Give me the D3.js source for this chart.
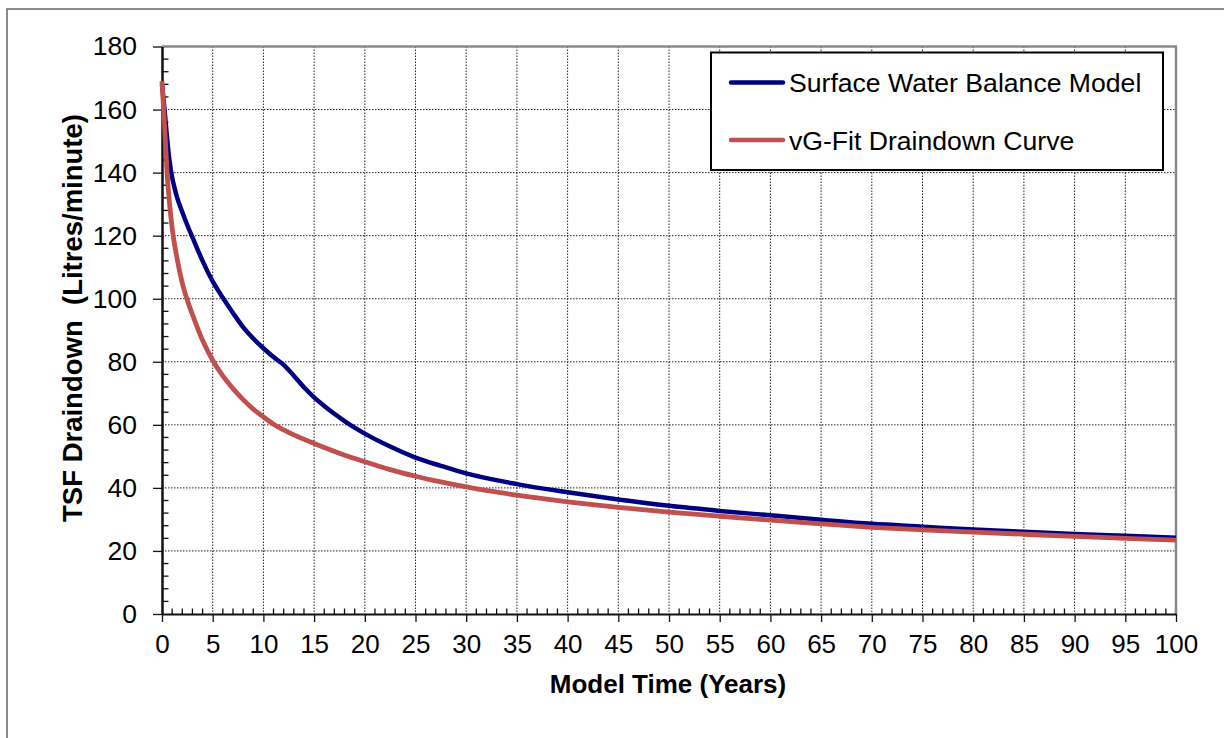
<!DOCTYPE html>
<html><head><meta charset="utf-8">
<script src="https://cdn.jsdelivr.net/npm/d3@7"></script>
<style>
html,body{margin:0;padding:0;background:#fff;}
svg{display:block;font-family:"Liberation Sans",Arial,sans-serif;}
</style></head>
<body>
<svg id="chart" width="1224" height="738"></svg>
<script>
// ---- data ----
const xTicks = [0,5,10,15,20,25,30,35,40,45,50,55,60,65,70,75,80,85,90,95,100];
const yTicks = [0,20,40,60,80,100,120,140,160,180];
const seriesNames = ["Surface Water Balance Model","vG-Fit Draindown Curve"];
const swbTime = [0,0.25,0.5,0.75,1,1.25,1.5,2,2.5,3,4,5,6,7,8,9,10,11,12,13,14,15,16,17,18,19,20,22.5,25,27.5,30,35,40,45,50,55,60,65,70,75,80,85,90,95,100];
const swbFlow = [168,160,151,143.5,138.5,135,132,127.5,123.3,119.5,112,105.5,100.3,95.5,91,87.4,84.3,81.5,79,75.6,71.9,68.7,66,63.5,61.2,59.1,57.2,53.1,49.6,47,44.6,41.2,38.6,36.3,34.3,32.7,31.3,29.9,28.6,27.7,26.8,26.1,25.4,24.8,24.2];
const vgTime = [0,0.25,0.5,0.75,1,1.5,2,2.5,3,4,5,6,7,8,9,10,11,12,13,14,15,17.5,20,22.5,25,27.5,30,35,40,45,50,55,60,65,70,75,80,85,90,95,100];
const vgFlow = [169,155,140,130,122.5,112.5,105,99.5,95,86.8,80.5,75.5,71.5,68,65,62.5,60.2,58.4,56.8,55.4,54.1,51,48.3,45.8,43.7,41.9,40.3,37.7,35.6,33.8,32.3,31,29.8,28.6,27.5,26.7,26,25.3,24.6,24,23.4];

const svg = d3.select("#chart");
const L = 162, R = 1176, T = 46.5, B = 614;
const x = d3.scaleLinear().domain([0,100]).range([L,R]);
const y = d3.scaleLinear().domain([0,180]).range([B,T]);

// outer frame
svg.append("rect").attr("x",7).attr("y",9).attr("width",1230).attr("height",740)
  .attr("fill","none").attr("stroke","#666").attr("stroke-width",1.5);

// grid
const grid = svg.append("g");
grid.selectAll("line.vx").data(xTicks.filter(d=>d>0&&d<100)).join("line")
  .attr("x1",d=>x(d)).attr("x2",d=>x(d)).attr("y1",T).attr("y2",B)
  .attr("stroke","#222").attr("stroke-width",1).attr("stroke-dasharray","1.5,1.5");
grid.selectAll("line.hy").data(yTicks.filter(d=>d>0&&d<180)).join("line")
  .attr("x1",L).attr("x2",R).attr("y1",d=>y(d)).attr("y2",d=>y(d))
  .attr("stroke","#222").attr("stroke-width",1).attr("stroke-dasharray","1.5,1.5");

// plot border top/right (gray)
svg.append("line").attr("x1",L).attr("x2",R+1).attr("y1",T).attr("y2",T).attr("stroke","#888").attr("stroke-width",2.5);
svg.append("line").attr("x1",R).attr("x2",R).attr("y1",T).attr("y2",B).attr("stroke","#888").attr("stroke-width",2.5);

// minor ticks
const xMinor = d3.range(0,101,1).filter(d=>d%5!==0);
svg.append("g").selectAll("line").data(xMinor).join("line")
  .attr("x1",d=>x(d)).attr("x2",d=>x(d)).attr("y1",B).attr("y2",B-5.5)
  .attr("stroke","#111").attr("stroke-width",1.3);
const yMinor = d3.range(0,181,4).filter(d=>d%20!==0);
svg.append("g").selectAll("line").data(yMinor).join("line")
  .attr("x1",L).attr("x2",L+6.5).attr("y1",d=>y(d)).attr("y2",d=>y(d))
  .attr("stroke","#111").attr("stroke-width",1.3);

// axes
const xAxis = d3.axisBottom(x).tickValues(xTicks).tickSize(8).tickPadding(13).tickSizeOuter(0);
const gx = svg.append("g").attr("transform",`translate(0,${B})`).call(xAxis);
gx.select(".domain").attr("stroke","#111").attr("stroke-width",2.2);
gx.selectAll(".tick line").attr("stroke","#111").attr("stroke-width",1.3);
gx.selectAll(".tick text").attr("font-size",26).attr("fill","#000")
  .attr("font-family","Liberation Sans, Arial, sans-serif");

const yAxis = d3.axisLeft(y).tickValues(yTicks).tickSize(9).tickPadding(16).tickSizeOuter(0);
const gy = svg.append("g").attr("transform",`translate(${L},0)`).call(yAxis);
gy.select(".domain").attr("stroke","#111").attr("stroke-width",2.5);
gy.selectAll(".tick line").attr("stroke","#111").attr("stroke-width",1.3);
gy.selectAll(".tick text").attr("font-size",26.5).attr("fill","#000")
  .attr("font-family","Liberation Sans, Arial, sans-serif");

// lines
const line = d3.line().x(d=>x(d[0])).y(d=>y(d[1])).curve(d3.curveMonotoneX);
const swb = swbTime.map((t,i)=>[t,swbFlow[i]]);
const vg = vgTime.map((t,i)=>[t,vgFlow[i]]);
svg.append("path").datum(swb).attr("d",line).attr("fill","none")
  .attr("stroke","#000080").attr("stroke-width",4.5).attr("stroke-linejoin","round");
svg.append("path").datum(vg).attr("d",line).attr("fill","none")
  .attr("stroke","#C0504D").attr("stroke-width",4.8).attr("stroke-linejoin","round");

// legend
const lg = svg.append("g");
lg.append("rect").attr("x",711).attr("y",52.5).attr("width",452).attr("height",117.5)
  .attr("fill","#fff").attr("stroke","#000").attr("stroke-width",2);
const colors = ["#000080","#C0504D"];
const ly = [82.5,140];
seriesNames.forEach((n,i)=>{
  lg.append("line").attr("x1",731).attr("x2",783).attr("y1",ly[i]).attr("y2",ly[i])
    .attr("stroke",colors[i]).attr("stroke-width",4.5).attr("stroke-linecap","round");
  lg.append("text").attr("x",789).attr("y",ly[i]+9.5).attr("font-size",26.6)
    .attr("fill","#000").text(n);
});

// axis titles
svg.append("text").attr("x",668).attr("y",693).attr("text-anchor","middle")
  .attr("font-size",26).attr("font-weight","bold").text("Model Time (Years)");
svg.append("text").attr("transform","translate(82,318) rotate(-90)").attr("text-anchor","middle")
  .attr("font-size",27.5).attr("font-weight","bold").style("white-space","pre")
  .text("TSF Draindown  (Litres/minute)");
</script>
</body></html>
